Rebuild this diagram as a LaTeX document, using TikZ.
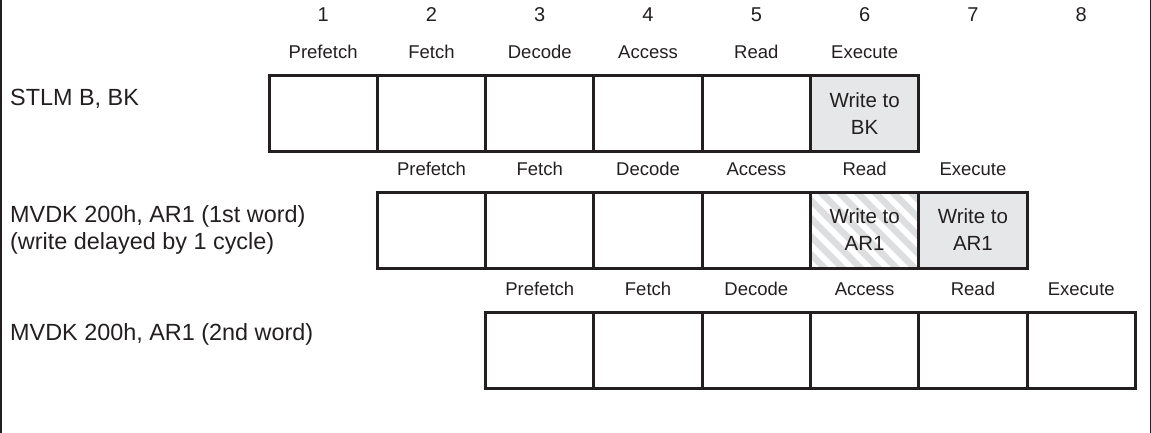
\documentclass[tikz,border=0pt]{standalone}
\usepackage{fontspec}
\setmainfont{Liberation Sans}
\definecolor{ink}{HTML}{231F20}
\definecolor{shade}{HTML}{E6E7E8}
\definecolor{hatchc}{HTML}{DDDEDF}
\tikzset{
  cell/.style={draw=ink, line width=3pt, minimum width=108.3pt, minimum height=76pt,
    inner sep=0pt, outer sep=0pt, anchor=north west, align=center, text=ink,
    font=\fontsize{20.5}{27}\selectfont},
  shaded/.style={cell, fill=shade},
  num/.style={font=\fontsize{20}{24}\selectfont, text=ink},
  stage/.style={font=\fontsize{18.5}{22}\selectfont, text=ink},
  instr/.style={font=\fontsize{23.4}{27}\selectfont, text=ink, anchor=west, align=left, inner sep=0pt},
}
\begin{document}
\begin{tikzpicture}[x=1pt,y=-1pt]
\useasboundingbox (0,0) rectangle (1151,433);
\draw[ink, line width=1.5pt] (0.75,0) -- (0.75,433) (1150.25,0) -- (1150.25,433);

% cycle numbers
\foreach \k in {1,...,8}
  \node[num] (n\k) at ({269+(\k-0.5)*108.3},15) {\k};

% stage labels
\foreach \r/\y in {1/52,2/169,3/289}{
  \foreach \s [count=\i from 0] in {Prefetch,Fetch,Decode,Access,Read,Execute}
    \node[stage] (s\r-\i) at ({269+(\r-1+\i+0.5)*108.3},\y) {\s};
}

% hatched background (delayed write)
\begin{scope}
  \clip (810.5,192) rectangle (918.8,268);
  \fill[white] (810.5,192) rectangle (918.8,268);
  \foreach \t in {-126,-108,...,126}
    \draw[hatchc, line width=6.5pt] ({810.5+\t},182) -- ++(100,100);
\end{scope}

% row 1
\foreach \i in {0,...,4}
  \node[cell] (c1-\i) at ({269+\i*108.3},76) {};
\node[shaded] (c1-5) at ({269+5*108.3},76) {Write to\\BK};

% row 2
\foreach \i in {0,...,3}
  \node[cell] (c2-\i) at ({269+(1+\i)*108.3},192) {};
\node[cell] (c2-4) at ({269+5*108.3},192) {Write to\\AR1};
\node[shaded] (c2-5) at ({269+6*108.3},192) {Write to\\AR1};

% row 3
\foreach \i in {0,...,5}
  \node[cell] (c3-\i) at ({269+(2+\i)*108.3},312) {};

% instruction labels
\node[instr] (i1) at (10,99) {STLM B, BK};
\node[instr] (i2) at (10,230) {MVDK 200h, AR1 (1st word)\\(write delayed by 1 cycle)};
\node[instr] (i3) at (10,334) {MVDK 200h, AR1 (2nd word)};
\end{tikzpicture}
\end{document}
